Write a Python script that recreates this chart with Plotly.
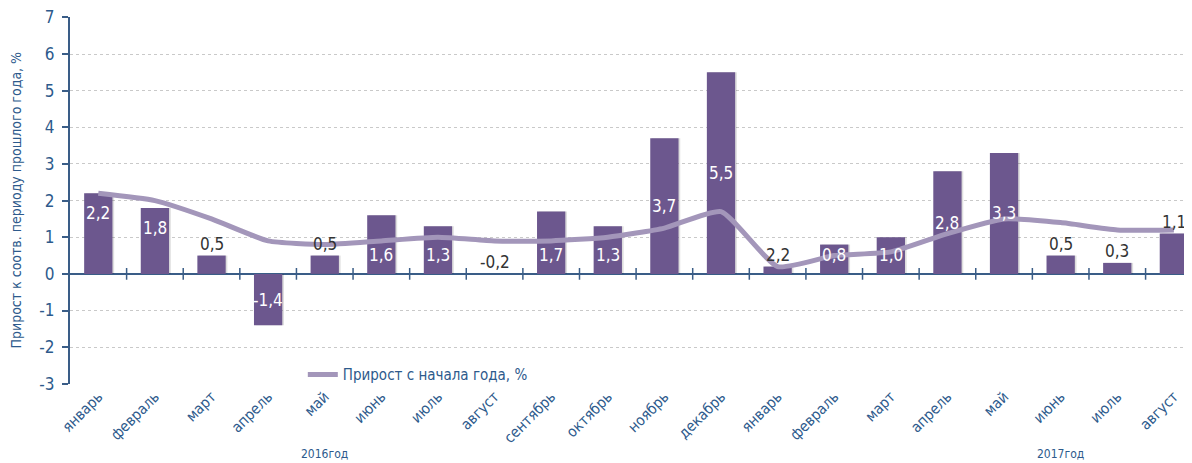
import plotly.graph_objects as go

# ---- data ----
months = ["январь", "февраль", "март", "апрель", "май", "июнь", "июль", "август",
          "сентябрь", "октябрь", "ноябрь", "декабрь",
          "январь", "февраль", "март", "апрель", "май", "июнь", "июль", "август"]
years = ["2016год", "2017год"]
bar_values = [2.2, 1.8, 0.5, -1.4, 0.5, 1.6, 1.3, 0.0, 1.7, 1.3, 3.7, 5.5,
              0.2, 0.8, 1.0, 2.8, 3.3, 0.5, 0.3, 1.1]
bar_labels = ["2,2", "1,8", "0,5", "-1,4", "0,5", "1,6", "1,3", "-0,2", "1,7", "1,3", "3,7", "5,5",
              "2,2", "0,8", "1,0", "2,8", "3,3", "0,5", "0,3", "1,1"]
ytd_values = [2.2, 2.0, 1.5, 0.9, 0.8, 0.9, 1.0, 0.9, 0.9, 1.0, 1.25, 1.7,
              0.2, 0.5, 0.6, 1.1, 1.5, 1.4, 1.2, 1.2]
line_name = "Прирост с начала года, %"
y_title = "Прирост к соотв. периоду прошлого года, %"
y_ticks = [-3, -2, -1, 0, 1, 2, 3, 4, 5, 6, 7]
y_tick_text = ["-3", "-2", "-1", "0", "1", "2", "3", "4", "5", "6", "7"]

# ---- styles ----
label_modes = ["top", "top", "out", "mid", "out", "base", "base", "out", "base", "base", "mid", "mid",
               "out", "base", "base", "mid", "mid", "out", "out", "out"]
year_anchor_idx = [4, 17]

FONT = "Liberation Sans Narrow, DejaVu Sans Condensed, Roboto Condensed, Arial Narrow, Roboto, sans-serif"
BLUE = "#2d5a8c"
AXIS = "#3a5d87"
BAR = "#6c578e"
LINE = "#a396ba"

x = list(range(len(months)))

fig = go.Figure()

# subtle shadow behind bars
fig.add_trace(go.Bar(x=x, y=bar_values, width=0.5, offset=-0.22,
                     marker=dict(color="rgba(0,0,0,0.13)", line=dict(width=0)),
                     showlegend=False, hoverinfo="skip"))
fig.add_trace(go.Bar(x=x, y=bar_values, width=0.5, offset=-0.25,
                     marker=dict(color=BAR, line=dict(width=0)),
                     showlegend=False, name="bars"))
fig.add_trace(go.Scatter(x=x, y=ytd_values, mode="lines", name=line_name,
                         line=dict(color=LINE, width=5, shape="spline", smoothing=0.5)))

annotations = []
for i, (v, lab, mode) in enumerate(zip(bar_values, bar_labels, label_modes)):
    if mode == "mid":
        a = dict(y=v / 2, yanchor="middle", yshift=0, color="white")
    elif mode == "top":
        a = dict(y=v, yanchor="top", yshift=-8, color="white")
    elif mode == "base":
        a = dict(y=0, yanchor="bottom", yshift=7, color="white")
    else:
        a = dict(y=v, yanchor="bottom", yshift=0, color="#333333")
    annotations.append(dict(x=i, y=a["y"], xref="x", yref="y", text=lab, showarrow=False,
                            yanchor=a["yanchor"], yshift=a["yshift"], xanchor="center",
                            font=dict(family=FONT, size=17, color=a["color"])))

for yi, idx in zip(years, year_anchor_idx):
    annotations.append(dict(x=idx, y=0, xref="x", yref="paper", yshift=-70, text=yi,
                            showarrow=False, yanchor="middle", xanchor="center",
                            font=dict(family=FONT, size=12, color=BLUE)))

annotations.append(dict(x=-0.049, y=0.5, xref="paper", yref="paper", text=y_title,
                        textangle=-90, showarrow=False, xanchor="center", yanchor="middle",
                        font=dict(family=FONT, size=14, color=BLUE)))

shapes = []
for i in range(len(months) - 1):
    shapes.append(dict(type="line", xref="x", yref="y", x0=i + 0.5, x1=i + 0.5,
                       y0=-0.16, y1=0.16, line=dict(color=AXIS, width=1.5)))

# the page body adds an 8px offset, so the figure is sized to end at the window edge
fig.update_layout(
    width=1184, height=455,
    margin=dict(l=62, r=0, t=9, b=79),
    paper_bgcolor="white", plot_bgcolor="white",
    barmode="overlay",
    showlegend=True,
    legend=dict(x=0.2075, y=0.025, xanchor="left", yanchor="middle",
                bgcolor="rgba(0,0,0,0)", font=dict(family=FONT, size=15, color=BLUE),
                itemwidth=30),
    annotations=annotations,
    shapes=shapes,
    font=dict(family=FONT),
)
fig.update_xaxes(range=[-0.5, 19.32], tickmode="array", tickvals=x, ticktext=months,
                 tickangle=-45, tickfont=dict(family=FONT, size=15, color=BLUE),
                 showgrid=False, showline=False, ticks="", zeroline=False, fixedrange=True,
                 automargin=False)
fig.update_yaxes(range=[-3.005, 7.01], tickmode="array", tickvals=y_ticks, ticktext=y_tick_text,
                 tickfont=dict(family=FONT, size=17, color=BLUE),
                 showgrid=True, gridcolor="#c9c9c9", griddash="dot", gridwidth=1,
                 zeroline=True, zerolinecolor=AXIS, zerolinewidth=2,
                 showline=True, linecolor=AXIS, linewidth=2,
                 ticks="outside", ticklen=6, tickcolor=AXIS, tickwidth=1.5,
                 ticklabelstandoff=4, ticklabeloverflow="allow", automargin=False)

fig.write_html("out.html")
